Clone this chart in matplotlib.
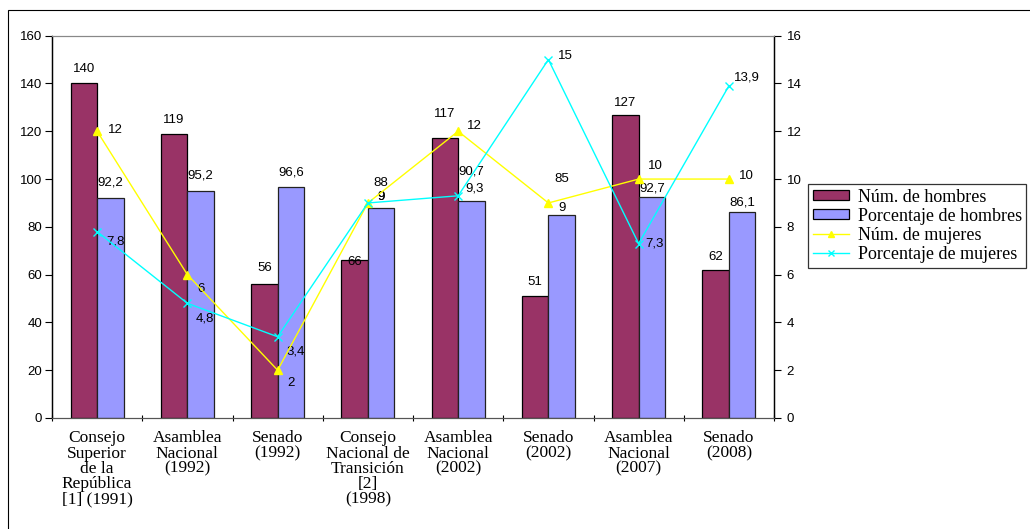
import matplotlib.pyplot as plt
from matplotlib.patches import Rectangle, Patch
from matplotlib.lines import Line2D
import numpy as np

categories = ["Consejo\nSuperior\nde la\nRepública\n[1] (1991)",
              "Asamblea\nNacional\n(1992)",
              "Senado\n(1992)",
              "Consejo\nNacional de\nTransición\n[2]\n(1998)",
              "Asamblea\nNacional\n(2002)",
              "Senado\n(2002)",
              "Asamblea\nNacional\n(2007)",
              "Senado\n(2008)"]
num_hombres = [140, 119, 56, 66, 117, 51, 127, 62]
pct_hombres = [92.2, 95.2, 96.6, 88, 90.7, 85, 92.7, 86.1]
num_mujeres = [12, 6, 2, 9, 12, 9, 10, 10]
pct_mujeres = [7.8, 4.8, 3.4, 9, 9.3, 15, 7.3, 13.9]

# label placement (pixels): height of bar labels above the bar top,
# and (dx, dy) of line labels from their points
lift_num_hom = [14, 14, 16, -2, 24, 14, 12, 13]
lift_pct_hom = [15, 15, 15, 25, 30, 36, 8, 10]
off_num_muj = [(18, 1), (14, -14), (13, -13), (13, 6), (16, 5), (14, -5), (17, 13), (18, 3)]
off_pct_muj = [(18, -10), (17, -15), (18, -15), (13, 6), (16, 7), (17, 4), (16, 0), (18, 8)]

MAROON = "#993366"
PERI = "#9999FF"
YEL = "#FFFF00"
CYAN = "#00FFFF"

def fmt(v):
    return ("%g" % v).replace(".", ",")

sans = "Liberation Sans"
serif = "Liberation Serif"

fig = plt.figure(figsize=(10.3, 5.29), dpi=100)
fig.patches.append(Rectangle((8 / 1030, -0.1), 1.2, 1 - 10 / 529 + 0.1,
                             transform=fig.transFigure, fill=False,
                             edgecolor="black", lw=0.8))

ax = fig.add_axes([52 / 1030, 1 - 418 / 529, 722 / 1030, (418 - 35.7) / 529])
ax2 = ax.twinx()

x = np.arange(len(categories))
w = 0.294
ax.bar(x - w / 2, num_hombres, w, color=MAROON, edgecolor="black", lw=0.9, zorder=2)
ax.bar(x + w / 2, pct_hombres, w, color=PERI, edgecolor="#222222", lw=0.9, zorder=2)

for xi, v, d in zip(x, num_hombres, lift_num_hom):
    ax.annotate(fmt(v), (xi - w / 2, v), xytext=(0, d), textcoords="offset pixels",
                ha="center", va="center", fontsize=9.5, family=sans, zorder=5)
for xi, v, d in zip(x, pct_hombres, lift_pct_hom):
    ax.annotate(fmt(v), (xi + w / 2, v), xytext=(0, d), textcoords="offset pixels",
                ha="center", va="center", fontsize=9.5, family=sans, zorder=5)

ax2.plot(x, num_mujeres, color=YEL, lw=1, marker="^", ms=6, zorder=4)
ax2.plot(x, pct_mujeres, color=CYAN, lw=1, marker="x", ms=6, mew=1, zorder=4)
for xi, v, o in zip(x, num_mujeres, off_num_muj):
    ax2.annotate(fmt(v), (xi, v), xytext=o, textcoords="offset pixels",
                 ha="center", va="center", fontsize=9.5, family=sans)
for xi, v, o in zip(x, pct_mujeres, off_pct_muj):
    ax2.annotate(fmt(v), (xi, v), xytext=o, textcoords="offset pixels",
                 ha="center", va="center", fontsize=9.5, family=sans)

ax.set_xlim(-0.5, len(categories) - 0.5)
ax.set_ylim(0, 160)
ax2.set_ylim(0, 16)
ax.set_yticks(range(0, 161, 20))
ax2.set_yticks(range(0, 17, 2))

ax.set_xticks(x)
ax.set_xticklabels(categories, family=serif, fontsize=12.5, linespacing=0.93)
ax.set_xticks(np.arange(-0.5, len(categories)), minor=True)
ax.tick_params(axis="x", which="major", length=0, pad=9)
ax.tick_params(axis="x", which="minor", length=5, direction="inout", width=0.8)

for a in (ax, ax2):
    a.spines["top"].set_color("#888888")
    a.spines["top"].set_linewidth(0.8)
    a.spines["bottom"].set_color("#555555")
    a.spines["left"].set_linewidth(0.9)
    a.spines["right"].set_linewidth(0.9)
    for lab in a.get_yticklabels():
        lab.set_family(sans)
        lab.set_fontsize(9.5)
ax.tick_params(axis="y", length=5, width=0.8, pad=2)
ax2.tick_params(axis="y", length=5, width=0.8, pad=4)

handles = [Patch(facecolor=MAROON, edgecolor="black", lw=0.9),
           Patch(facecolor=PERI, edgecolor="black", lw=0.9),
           Line2D([], [], color=YEL, marker="^", ms=5, lw=1),
           Line2D([], [], color=CYAN, marker="x", ms=5, lw=1)]
labels = ["Núm. de hombres", "Porcentaje de hombres",
          "Núm. de mujeres", "Porcentaje de mujeres"]
leg = fig.legend(handles, labels, loc="upper left",
                 bbox_to_anchor=(808 / 1030, 1 - 184 / 529),
                 prop={"family": serif, "size": 13}, frameon=True, fancybox=False,
                 borderaxespad=0, labelspacing=0.12, handlelength=2.0,
                 handleheight=0.5, handletextpad=0.5, borderpad=0.25)
leg.get_frame().set_edgecolor("black")
leg.get_frame().set_linewidth(0.9)

fig.savefig("out.png", dpi=100)
